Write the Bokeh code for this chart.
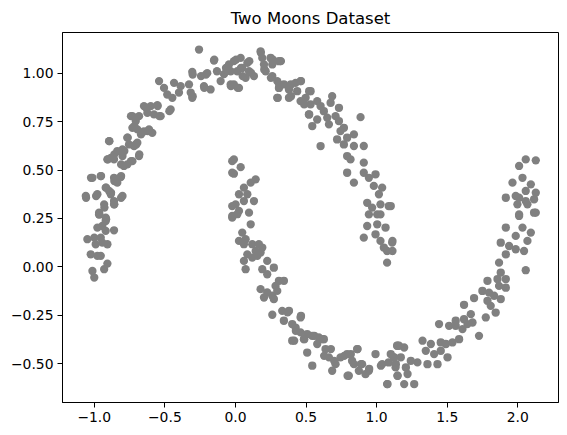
from bokeh.plotting import figure
from bokeh.models import Range1d, FixedTicker
from bokeh.embed import file_html
from bokeh.resources import INLINE

title = "Two Moons Dataset"
x_ticks = [-1.0, -0.5, 0.0, 0.5, 1.0, 1.5, 2.0]
x_tick_labels = ["\u22121.0", "\u22120.5", "0.0", "0.5", "1.0", "1.5", "2.0"]
y_ticks = [-0.5, -0.25, 0.0, 0.25, 0.5, 0.75, 1.0]
y_tick_labels = ["\u22120.50", "\u22120.25", "0.00", "0.25", "0.50", "0.75", "1.00"]

upper_moon_xy = [
    (-0.258, 1.122), (-0.152, 1.065), (-0.046, 1.045), (-0.306, 1.007), (-0.244, 0.985), (-0.2, 1.0),
    (-0.131, 1.01), (-0.081, 0.995), (-0.541, 0.959), (-0.435, 0.95), (-0.506, 0.924), (-0.483, 0.89),
    (-0.388, 0.933), (-0.329, 0.942), (-0.40, 0.90), (-0.317, 0.90), (-0.306, 0.873), (-0.223, 0.933),
    (-0.176, 0.916), (-0.105, 0.959), (-0.034, 0.942), (-0.447, 0.873), (-0.648, 0.830), (-0.60, 0.830),
    (-0.553, 0.835), (-0.624, 0.795), (-0.577, 0.787), (-0.53, 0.778), (-0.459, 0.813), (-0.73, 0.778),
    (-0.706, 0.753), (-0.683, 0.778), (-0.73, 0.718), (-0.695, 0.71), (-0.648, 0.70), (-0.612, 0.71),
    (-0.589, 0.692), (-0.895, 0.649), (-0.766, 0.667), (-0.754, 0.632), (-0.718, 0.624), (-0.695, 0.641),
    (-0.80, 0.607), (-0.837, 0.598), (-0.883, 0.563), (-0.907, 0.555), (-0.86, 0.555), (-0.80, 0.572),
    (-0.73, 0.546), (-0.683, 0.572), (-0.766, 0.529), (-0.79, 0.521), (-1.013, 0.46), (-0.954, 0.469),
    (-0.86, 0.46), (-0.812, 0.464), (-0.837, 0.435), (-1.06, 0.366), (-0.978, 0.375), (-0.919, 0.409),
    (-0.883, 0.375), (-0.86, 0.34), (-0.80, 0.366), (-0.895, 0.392), (-0.93, 0.323), (-0.86, 0.323),
    (-0.966, 0.28), (-0.919, 0.254), (-0.966, 0.27), (-0.919, 0.237), (-0.978, 0.203), (-0.943, 0.211),
    (-0.86, 0.189), (-0.919, 0.186), (-1.049, 0.143), (-1.0, 0.151), (-0.954, 0.151), (-0.99, 0.117),
    (-0.907, 0.117), (-0.943, 0.125), (-1.025, 0.065), (-0.978, 0.057), (-0.954, 0.057), (-0.907, 0.017),
    (-0.93, -0.012), (-1.013, -0.021), (-1.0, -0.055),
    (-0.011, 1.062), (0.037, 1.079), (0.084, 1.053), (0.048, 1.027), (0.013, 1.01), (0.096, 1.01),
    (0.131, 0.985), (0.072, 0.976), (-0.011, 0.942), (0.025, 0.924), (-0.034, 1.01), (0.178, 1.113),
    (0.19, 1.079), (0.249, 1.079), (0.308, 1.062), (0.261, 1.045), (0.214, 1.01), (0.202, 1.045),
    (0.261, 0.985), (0.296, 0.959), (0.308, 0.924), (0.343, 0.942), (0.296, 0.873), (0.379, 0.873),
    (0.379, 0.916), (0.426, 0.95), (0.461, 0.959), (0.437, 0.907), (0.461, 0.856), (0.497, 0.873),
    (0.532, 0.907), (0.532, 0.839), (0.579, 0.856), (0.603, 0.830), (0.685, 0.881), (0.674, 0.847),
    (0.733, 0.821), (0.52, 0.787), (0.579, 0.761), (0.544, 0.727), (0.626, 0.804), (0.65, 0.77),
    (0.662, 0.736), (0.709, 0.778), (0.733, 0.753), (0.886, 0.773), (0.744, 0.701), (0.768, 0.718),
    (0.72, 0.658), (0.791, 0.667), (0.839, 0.684), (0.768, 0.632), (0.839, 0.624), (0.909, 0.624),
    (0.603, 0.624), (0.791, 0.572), (0.815, 0.555), (0.909, 0.538), (0.791, 0.486), (0.839, 0.435),
    (0.909, 0.486), (0.945, 0.46), (0.992, 0.478), (0.98, 0.418), (1.039, 0.409), (1.016, 0.375),
    (0.933, 0.331), (0.968, 0.306), (1.027, 0.323), (1.086, 0.314), (0.945, 0.271), (1.027, 0.271),
    (1.004, 0.271), (0.933, 0.211), (1.004, 0.22), (1.063, 0.203), (0.909, 0.151), (0.992, 0.168),
    (1.027, 0.134), (1.051, 0.1), (1.11, 0.125), (1.074, 0.082), (1.074, 0.022), (1.10, 0.314),
    (1.112, 0.134), (1.112, 0.082),
    (-0.15, 1.07), (-0.067, 1.027), (0.004, 1.07), (0.039, 1.027), (0.098, 1.062), (0.11, 1.002),
    (0.051, 0.985), (-0.032, 0.933), (0.016, 0.924), (0.18, 1.105), (0.263, 1.07), (0.322, 1.062),
    (0.204, 1.019), (0.251, 0.976), (0.31, 0.942), (0.299, 0.873), (0.393, 0.942), (0.464, 0.959),
    (0.393, 0.881), (0.522, 0.907), (0.487, 0.839), (0.522, 0.787), (-0.221, 0.924), (-0.303, 0.993),
    (-0.303, 0.881), (-0.209, 0.993),
    (-0.633, 0.821), (-0.551, 0.83), (-0.468, 0.804), (-0.74, 0.778), (-0.539, 0.778), (-0.716, 0.727),
    (-0.621, 0.701), (-0.669, 0.684), (-0.763, 0.667), (-0.893, 0.649), (-0.704, 0.632), (-0.787, 0.598),
    (-0.858, 0.581), (-0.681, 0.581), (-0.904, 0.555), (-0.74, 0.546), (-0.81, 0.529), (-1.023, 0.46),
    (-0.952, 0.469), (-0.81, 0.469), (-0.858, 0.443), (-0.916, 0.409), (-1.058, 0.357), (-0.987, 0.366),
    (-0.881, 0.383), (-0.81, 0.357), (-0.928, 0.306), (-0.858, 0.323), (-0.964, 0.272), (-0.916, 0.246),
]

lower_moon_xy = [
    (-0.023, 0.546), (-0.023, 0.486), (-0.023, 0.314), (-0.023, 0.263), (-0.023, 0.254),
    (-0.011, 0.555), (0.037, 0.515), (-0.011, 0.481), (0.143, 0.452), (0.108, 0.435), (0.06, 0.409),
    (0.025, 0.375), (0.084, 0.375), (0.131, 0.34), (0.06, 0.34), (0.001, 0.323), (0.025, 0.289),
    (0.013, 0.272), (0.096, 0.28), (0.108, 0.22), (0.048, 0.177), (0.025, 0.134), (0.072, 0.143),
    (0.06, 0.117), (0.119, 0.117), (0.166, 0.117), (0.19, 0.1), (0.143, 0.082), (0.084, 0.065),
    (0.06, 0.031), (0.119, 0.048), (0.155, 0.057), (0.178, 0.074), (0.225, 0.031), (0.19, -0.012),
    (0.272, -0.004), (0.225, -0.038), (0.072, -0.012), (0.308, -0.072), (0.343, -0.072), (0.284, -0.098),
    (0.178, -0.115), (0.225, -0.132), (0.261, -0.149), (0.296, -0.124), (0.202, -0.158), (0.272, -0.166),
    (0.261, -0.247), (0.331, -0.227), (0.379, -0.227), (0.343, -0.278), (0.402, -0.295), (0.461, -0.261),
    (0.426, -0.313), (0.461, -0.338), (0.508, -0.347), (0.402, -0.381), (0.485, -0.373), (0.544, -0.356),
    (0.591, -0.364), (0.626, -0.373), (0.579, -0.398), (0.508, -0.442), (0.544, -0.51), (0.638, -0.424),
    (0.662, -0.467), (0.709, -0.502), (0.685, -0.536), (0.744, -0.467), (0.791, -0.45), (0.826, -0.485),
    (0.862, -0.424), (0.839, -0.502), (0.897, -0.502), (0.921, -0.553), (0.803, -0.562), (0.874, -0.536),
    (0.992, -0.45), (0.945, -0.536), (1.039, -0.502), (1.086, -0.493), (1.122, -0.467), (1.134, -0.519),
    (1.074, -0.605), (1.145, -0.407),
    (1.148, -0.407), (1.195, -0.416), (1.124, -0.467), (1.171, -0.467), (1.242, -0.485), (1.289, -0.493),
    (1.136, -0.502), (1.207, -0.519), (1.148, -0.562), (1.219, -0.553), (1.195, -0.605), (1.266, -0.605),
    (1.325, -0.381), (1.384, -0.398), (1.454, -0.39), (1.49, -0.398), (1.537, -0.39), (1.348, -0.433),
    (1.407, -0.45), (1.502, -0.467), (1.454, -0.433), (1.36, -0.502), (1.431, -0.502), (1.56, -0.278),
    (1.619, -0.27), (1.643, -0.295), (1.608, -0.321), (1.679, -0.287), (1.725, -0.356), (1.584, -0.373),
    (1.513, -0.304), (1.442, -0.295), (1.56, -0.304), (1.879, -0.029), (1.856, -0.063), (1.915, -0.063),
    (1.785, -0.072), (1.867, -0.098), (1.915, -0.107), (1.749, -0.124), (1.796, -0.133), (1.832, -0.149),
    (1.879, -0.166), (1.69, -0.161), (1.785, -0.175), (1.808, -0.201), (1.843, -0.236), (1.619, -0.196),
    (1.667, -0.244), (1.773, -0.261), (2.009, 0.263), (2.115, 0.28), (2.033, 0.203), (1.915, 0.203),
    (1.985, 0.16), (2.092, 0.177), (2.068, 0.134), (1.879, 0.125), (1.938, 0.108), (1.985, 0.091),
    (2.044, 0.082), (1.915, 0.065), (1.867, 0.022), (2.056, -0.017),
    (2.009, 0.521), (2.056, 0.555), (2.127, 0.55), (2.033, 0.46), (1.962, 0.435), (2.092, 0.426),
    (2.056, 0.392), (2.127, 0.383), (1.985, 0.366), (1.915, 0.357), (2.009, 0.357), (2.056, 0.34),
    (2.115, 0.349), (1.997, 0.323), (2.068, 0.323), (2.127, 0.28), (2.009, 0.271),
    (0.369, -0.235), (0.464, -0.253), (0.428, -0.33), (0.416, -0.381), (0.487, -0.373), (0.558, -0.356),
    (0.617, -0.373), (0.676, -0.424), (0.628, -0.459), (0.699, -0.485), (0.77, -0.459), (0.817, -0.45),
    (0.865, -0.424), (0.888, -0.502), (0.947, -0.527), (0.794, -0.562), (1.03, -0.51), (1.1, -0.45),
    (1.159, -0.407), (1.148, -0.562), (1.077, -0.605),
]

points = upper_moon_xy + lower_moon_xy
xs = [pt[0] for pt in points]
ys = [pt[1] for pt in points]

FONT = "DejaVu Sans"

p = figure(
    width=561, height=432,
    output_backend="svg", toolbar_location=None,
    x_range=Range1d(-1.225, 2.288), y_range=Range1d(-0.70, 1.21),
    title=title,
    min_border_left=62, min_border_right=3, min_border_top=32, min_border_bottom=30,
)
p.title.align = "center"
p.title.text_font = FONT
p.title.text_font_size = "16.5px"
p.title.text_font_style = "normal"
p.title.text_color = "black"

p.scatter(xs, ys, size=8.3, fill_color="gray", line_color=None)

p.xgrid.visible = False
p.ygrid.visible = False
p.outline_line_color = "black"
p.outline_line_alpha = 1.0
p.outline_line_width = 1

for ax, ticks, labels in ((p.xaxis[0], x_ticks, x_tick_labels), (p.yaxis[0], y_ticks, y_tick_labels)):
    ax.ticker = FixedTicker(ticks=ticks)
    ax.major_label_overrides = {t: l for t, l in zip(ticks, labels)}
    ax.major_label_text_font = FONT
    ax.major_label_text_font_size = "13.9px"
    ax.major_label_text_color = "black"
    ax.minor_tick_line_color = None
    ax.major_tick_out = 5
    ax.major_tick_in = 0
    ax.major_tick_line_color = "black"
    ax.axis_line_color = "black"
    ax.major_label_standoff = 4

p.background_fill_color = "white"
p.border_fill_color = "white"

open("out.html", "w").write(file_html(p, INLINE))
